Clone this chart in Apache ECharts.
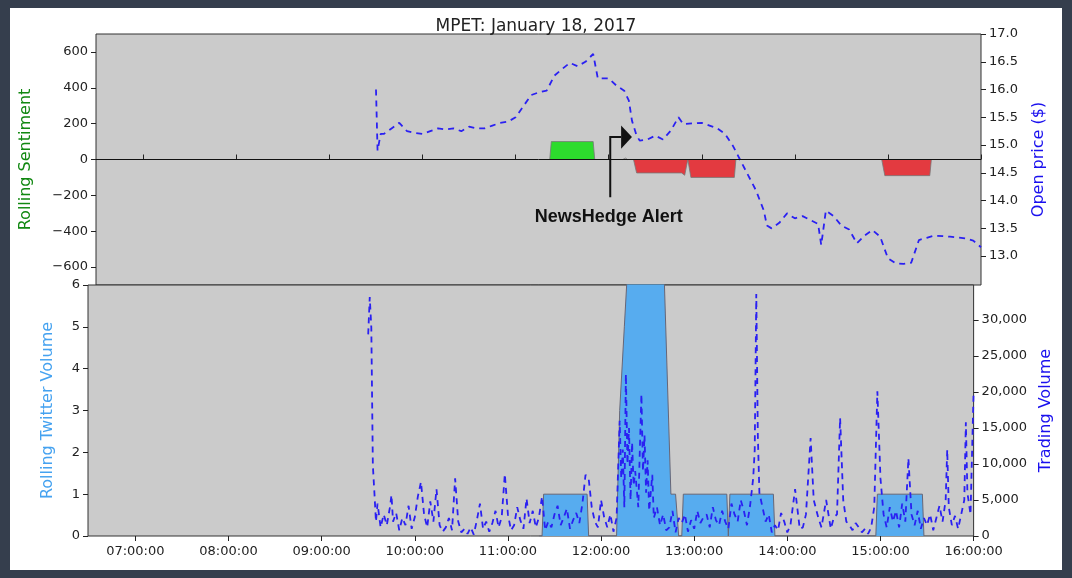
<!DOCTYPE html>
<html><head><meta charset="utf-8">
<script src="https://cdn.jsdelivr.net/npm/echarts@6/dist/echarts.min.js"></script>
<style>
html,body{margin:0;padding:0;background:#353e4d;width:1072px;height:578px;overflow:hidden}
#c{position:absolute;left:10px;top:8px;width:1052px;height:562px;background:#fff}
</style></head><body><div id="c"></div>
<script>
const title = 'MPET: January 18, 2017';
const xTicks = ['07:00','08:00','09:00','10:00','11:00','12:00','13:00','14:00','15:00','16:00'];
const sentTicks = [-600,-400,-200,0,200,400,600];
const priceTicks = [13.0,13.5,14.0,14.5,15.0,15.5,16.0,16.5,17.0];
const twTicks = [0,1,2,3,4,5,6];
const volTicks = [0,5000,10000,15000,20000,25000,30000];

// Open price (time, $)
const priceTimes = ['09:30','09:31','09:33','09:35','09:40','09:45','09:50','09:55','10:00','10:05','10:10','10:15','10:20','10:25','10:30','10:35','10:40','10:45','10:50','10:55','11:00','11:05','11:10','11:15','11:20','11:25','11:30','11:35','11:40','11:45','11:50','11:53','12:00','12:05','12:10','12:13','12:15','12:18','12:20','12:25','12:30','12:35','12:40','12:45','12:48','13:00','13:05','13:10','13:15','13:20','13:25','13:30','13:35','13:40','13:42','13:45','13:50','13:55','14:00','14:05','14:10','14:15','14:17','14:20','14:25','14:30','14:35','14:40','14:45','14:50','14:55','15:00','15:05','15:10','15:15','15:20','15:25','15:30','15:40','15:50','15:55','16:00'];
const priceValues = [16.0,14.9,15.2,15.2,15.3,15.4,15.25,15.22,15.2,15.25,15.3,15.28,15.3,15.25,15.33,15.3,15.3,15.35,15.4,15.42,15.5,15.7,15.9,15.95,15.98,16.25,16.37,16.48,16.42,16.5,16.64,16.2,16.2,16.07,15.98,15.8,15.44,15.17,15.08,15.1,15.17,15.1,15.26,15.5,15.38,15.4,15.35,15.3,15.2,14.99,14.72,14.45,14.18,13.82,13.55,13.5,13.6,13.77,13.68,13.72,13.65,13.58,13.2,13.82,13.72,13.55,13.48,13.23,13.37,13.47,13.35,12.96,12.87,12.86,12.88,13.29,13.33,13.37,13.35,13.32,13.28,13.16];

// Rolling sentiment (time, value)
const posTimes = ['11:20','11:22','11:23','11:50','11:51','11:52','12:09','12:10','12:11','12:12'];
const posValues = [0,0,100,100,0,0,0,8,8,0];
const negTimes = ['12:16','12:17','12:18','12:47','12:49','12:50','12:51','12:52','12:53','13:21','13:22','13:23','14:56','14:57','14:58','15:27','15:28','15:29'];
const negValues = [0,0,-75,-75,-88,-88,0,0,-100,-100,0,0,0,0,-90,-90,0,0];

// Rolling twitter volume
const twTimes = ['11:20','11:22','11:23','11:51','11:52','12:10','12:12','12:15','12:16','12:18','12:40','12:45','12:48','12:49','12:50','12:51','12:52','12:53','13:21','13:22','13:23','13:51','13:52','14:57','14:58','15:27','15:28'];
const twValues = [0,0,1,1,0,0,3,5,5,7,7,1,1,1,0,0,0,1,1,0,1,1,0,0,1,1,0];

// Trading volume: minutes after 09:30, shares
const volOffsets = [0,1,2,3,4,5,6,8,10,12,14,15,16,18,20,22,24,26,28,30,32,34,36,38,40,42,44,46,48,50,52,54,56,58,60,62,64,66,68,70,72,74,76,78,80,82,84,86,88,90,92,94,96,98,100,102,104,106,108,110,112,114,116,118,120,122,124,126,128,130,132,134,136,138,140,142,144,146,148,150,152,154,156,158,160,162,163,164,165,166,167,168,169,170,171,172,174,175,176,177,178,179,180,181,182,183,184,186,188,190,192,194,196,198,200,202,204,206,208,210,212,214,216,218,220,222,224,226,228,230,232,234,236,238,240,242,244,246,248,249,250,251,252,254,256,258,260,262,264,266,268,270,272,275,278,280,282,285,287,290,292,295,298,300,302,304,306,308,310,312,314,316,318,320,322,324,326,328,330,332,334,336,338,340,342,344,346,348,350,352,354,356,358,360,362,364,366,368,370,372,373,374,376,378,380,382,384,385,386,388,390];
const volValues = [28000,33200,29000,9800,6000,2000,4500,1200,3000,1500,4000,5700,2000,3200,800,2500,1500,4200,1000,2600,5500,7500,3000,1200,4800,2000,6500,1500,600,1200,2500,800,8000,2000,500,1000,300,1200,200,2200,4500,1000,2000,600,1800,3500,1200,2600,8600,3000,800,1500,4000,2200,1000,5200,1800,3500,1200,2600,5500,800,2000,1200,3000,4200,1500,2600,3800,1000,2200,3200,1800,4500,8500,8000,4000,2000,1200,5000,2600,1200,3000,600,2500,16000,8000,12000,4000,22500,10000,15000,5000,13000,7000,9000,4000,12000,19700,9000,14000,6000,10500,3500,6000,8500,2500,4000,1500,3000,800,1200,3500,500,2500,1800,3000,600,2200,1000,3500,1800,2600,3000,1200,4000,2200,1500,3500,2000,1000,4500,3000,2000,5000,3500,1500,4200,8000,12000,33600,14000,6000,4000,2000,3000,500,1500,800,3200,2000,500,1500,6500,1000,1200,3000,13600,5000,2500,1200,5000,1000,2600,3000,16400,5000,2000,1500,800,1800,1200,500,1000,300,1200,4000,20100,8000,3000,1200,4000,2000,3500,1200,4500,2000,10800,3000,1500,3500,1000,2500,1500,3000,800,2500,4200,2000,5000,12000,4000,1500,2800,1000,3000,5000,15800,6000,3000,20100];

const toMin = s => { const [h,m] = s.split(':').map(Number); return h*60+m; };
const pair = (ts, vs) => ts.map((t,i)=>[toMin(t), vs[i]]);
const volData = volOffsets.map((o,i)=>[570+o, volValues[i]]);
const xCustom = xTicks.map(toMin);
const fmtTime = v => { const h=Math.floor(v/60), m=v%60; return String(h).padStart(2,'0')+':'+String(m).padStart(2,'0')+':00'; };
const FONT = 'DejaVu Sans';
const lbl = {color:'#222', fontFamily:FONT, fontSize:13};
const blue = '#2a20f2';

const chart = echarts.init(document.getElementById('c'));
const xBase = (gi, showLabel) => ({
  type:'value', gridIndex:gi, min:389.5, max:960,
  axisLine:{show:false}, splitLine:{show:false},
  axisTick:{show:true, customValues:xCustom, length:5, lineStyle:{color:'#222'}},
  axisLabel:{show:showLabel, customValues:xCustom, formatter:fmtTime, ...lbl, margin:9}
});
chart.setOption({
  animation:false,
  title:{text:title, left:'center', top:5, textStyle:{fontFamily:FONT, fontSize:17, fontWeight:'normal', color:'#222'}},
  grid:[
    {left:78, top:26, width:893, height:251, show:true, backgroundColor:'#cbcbcb', borderColor:'#333', borderWidth:1},
    {left:78, top:277, width:893, height:251, show:true, backgroundColor:'#cbcbcb', borderColor:'#333', borderWidth:1}
  ],
  xAxis:[
    {...xBase(0,false), position:'top'},
    xBase(1,true)
  ],
  yAxis:[
    {type:'value', gridIndex:0, min:-700, max:700, position:'left', axisLine:{show:false}, splitLine:{show:false},
     axisTick:{show:true, customValues:sentTicks, length:5, lineStyle:{color:'#222'}},
     axisLabel:{customValues:sentTicks, ...lbl, formatter:v=>String(v).replace('-','\u2212')},
     name:'Rolling Sentiment', nameLocation:'middle', nameGap:62, nameTextStyle:{color:'#118811', fontFamily:FONT, fontSize:16}},
    {type:'value', gridIndex:0, min:12.48, max:17.0, position:'right', axisLine:{show:false}, splitLine:{show:false},
     axisTick:{show:true, customValues:priceTicks, length:5, lineStyle:{color:'#222'}},
     axisLabel:{customValues:priceTicks, ...lbl, formatter:v=>v.toFixed(1)},
     name:'Open price ($)', nameLocation:'middle', nameGap:50, nameTextStyle:{color:'#1a10ee', fontFamily:FONT, fontSize:16}},
    {type:'value', gridIndex:1, min:0, max:6, position:'left', axisLine:{show:false}, splitLine:{show:false},
     axisTick:{show:true, customValues:twTicks, length:5, lineStyle:{color:'#222'}},
     axisLabel:{customValues:twTicks, ...lbl},
     name:'Rolling Twitter Volume', nameLocation:'middle', nameGap:32, nameTextStyle:{color:'#45a2f0', fontFamily:FONT, fontSize:16}},
    {type:'value', gridIndex:1, min:0, max:34860, position:'right', axisLine:{show:false}, splitLine:{show:false},
     axisTick:{show:true, customValues:volTicks, length:5, lineStyle:{color:'#222'}},
     axisLabel:{customValues:volTicks, ...lbl},
     name:'Trading Volume', nameLocation:'middle', nameGap:62, nameTextStyle:{color:'#1a10ee', fontFamily:FONT, fontSize:16}}
  ],
  series:[
    {type:'line', xAxisIndex:0, yAxisIndex:0, data:pair(posTimes,posValues), symbol:'none', clip:true,
     lineStyle:{color:'#777', width:0.8}, areaStyle:{color:'#2ddc2d', opacity:1}, z:2,
     markLine:{silent:true, symbol:'none', label:{show:false}, lineStyle:{color:'#111', type:'solid', width:1}, data:[{yAxis:0}]}},
    {type:'line', xAxisIndex:0, yAxisIndex:0, data:pair(negTimes,negValues), symbol:'none',
     lineStyle:{color:'#777', width:0.8}, areaStyle:{color:'#e33a40', opacity:1}, z:2},
    {type:'line', xAxisIndex:0, yAxisIndex:1, data:pair(priceTimes,priceValues), symbol:'none',
     lineStyle:{color:blue, width:1.8, type:[6,5]}, z:3},
    {type:'line', xAxisIndex:1, yAxisIndex:2, data:pair(twTimes,twValues), symbol:'none', clip:true,
     lineStyle:{color:'#667', width:1}, areaStyle:{color:'#57acef', opacity:1}, z:2},
    {type:'line', xAxisIndex:1, yAxisIndex:3, data:volData, symbol:'none',
     lineStyle:{color:blue, width:1.8, type:[6,5]}, z:3}
  ]
});

// NewsHedge alert annotation, positioned in data coordinates
const alertAt = toMin('12:00');
const P = (t, v) => chart.convertToPixel({xAxisIndex:0, yAxisIndex:0}, [t, v]);
const a = P(alertAt+1, -210), b = P(alertAt+1, 125), c = P(alertAt+8, 125);
const tip = P(alertAt+15, 125), up = P(alertAt+8, 190), dn = P(alertAt+8, 60), txt = P(alertAt, -320);
chart.setOption({graphic:[
  {type:'polyline', shape:{points:[a,b,c]}, style:{stroke:'#111', lineWidth:2, fill:null}, z:10},
  {type:'polygon', shape:{points:[up,tip,dn]}, style:{fill:'#111'}, z:10},
  {type:'text', x:txt[0], y:txt[1], style:{text:'NewsHedge Alert', fill:'#111', font:'bold 18px "Liberation Sans", Arial', align:'center', verticalAlign:'middle'}, z:10}
]});
</script></body></html>
